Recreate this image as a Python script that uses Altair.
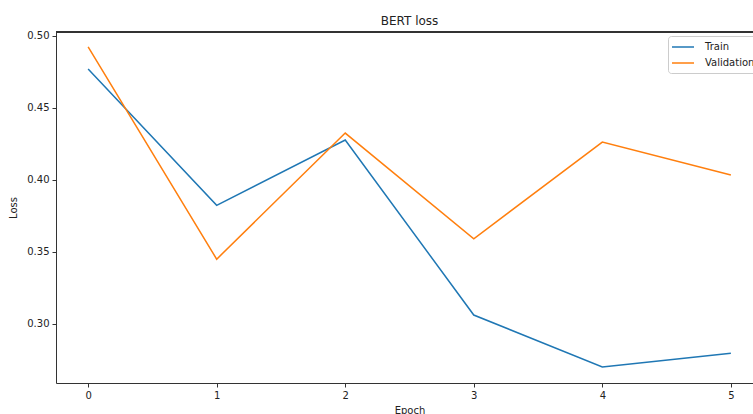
import altair as alt
import pandas as pd

epochs = [0, 1, 2, 3, 4, 5]
train_loss = [0.4769, 0.3822, 0.4276, 0.3060, 0.2700, 0.2795]
val_loss = [0.4922, 0.3448, 0.4324, 0.3590, 0.4261, 0.4033]
series_names = ["Train", "Validation"]
series_colors = ["#1f77b4", "#ff7f0e"]
x_ticks = [0, 1, 2, 3, 4, 5]
y_ticks = [0.30, 0.35, 0.40, 0.45, 0.50]

rows = []
for e, t, v in zip(epochs, train_loss, val_loss):
    rows.append({"Epoch": e, "Loss": t, "Series": series_names[0]})
    rows.append({"Epoch": e, "Loss": v, "Series": series_names[1]})
df = pd.DataFrame(rows)

FONT = "DejaVu Sans"

x_enc = alt.X(
    "Epoch:Q",
    scale=alt.Scale(domain=[-0.25, 5.25], range=[0, 707], nice=False, zero=False),
    axis=alt.Axis(values=x_ticks, format="d", title="Epoch", grid=False,
                  tickSize=4, labelPadding=3, titlePadding=5),
)
y_enc = alt.Y(
    "Loss:Q",
    scale=alt.Scale(domain=[0.2588, 0.5026], nice=False, zero=False),
    axis=alt.Axis(values=y_ticks, format=".2f", title="Loss", grid=False,
                  tickSize=4, labelPadding=3, titlePadding=8),
)

lines = alt.Chart(df).mark_line(strokeWidth=1.5).encode(
    x=x_enc,
    y=y_enc,
    color=alt.Color(
        "Series:N",
        scale=alt.Scale(domain=series_names, range=series_colors),
        legend=alt.Legend(
            title=None, orient="none", legendX=612, legendY=4,
            symbolType="M-1.4,0H3", symbolSize=100, symbolStrokeWidth=1.5,
            labelFontSize=10, labelFont=FONT, labelColor="#222",
            padding=5, rowPadding=5, labelOffset=20,
            strokeColor="#cccccc", fillColor="white", cornerRadius=3,
        ),
    ),
)

top_spine = alt.Chart(df).mark_rule(color="#333", strokeWidth=1).encode(
    x=alt.value(0), x2=alt.value(707), y=alt.value(0)
)

chart = alt.layer(lines, top_spine).properties(
    width=697,
    height=351,
    title=alt.Title("BERT loss", fontSize=12, font=FONT, fontWeight="normal",
                    color="#222", anchor="middle", offset=3, dx=5),
    autosize=alt.AutoSizeParams(type="none"),
    padding={"left": 56, "top": 32, "right": 0, "bottom": 31},
).configure_view(stroke=None).configure_axis(
    labelFont=FONT, titleFont=FONT, labelFontSize=10, titleFontSize=10,
    labelColor="#222", titleColor="#222", titleFontWeight="normal",
    domainColor="#333", tickColor="#333", domainWidth=1, tickWidth=1,
)

chart.save("out.html", embed_options={"renderer": "svg", "actions": False})
